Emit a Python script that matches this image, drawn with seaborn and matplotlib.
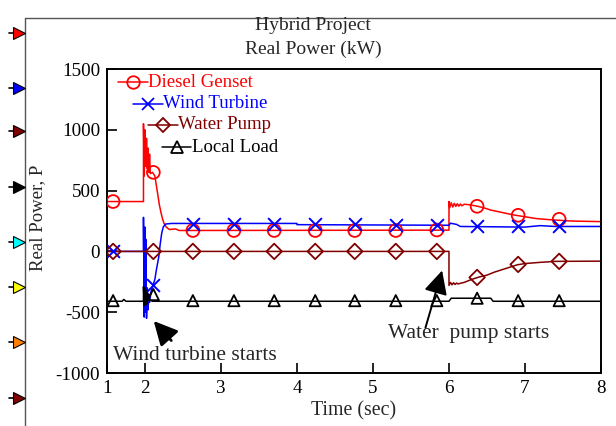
import numpy as np
import pandas as pd
import matplotlib
matplotlib.use("Agg")
import matplotlib.pyplot as plt
from matplotlib.lines import Line2D
import seaborn as sns

# ---------------- data ----------------
diesel_t = [1.5, 1.98, 1.98, 1.99, 2.00, 2.01, 2.02, 2.03, 2.04, 2.05, 2.06, 2.07, 2.10,
            2.13, 2.15, 2.17, 2.19, 2.21, 2.23, 2.25, 2.28, 2.32, 2.40, 2.45, 6.00,
            6.00, 6.01, 6.03, 6.05, 6.07, 6.09, 6.11, 6.13, 6.15, 6.17, 6.20, 6.25,
            6.35, 6.45, 6.55, 6.70, 6.85, 7.00, 7.15, 7.30, 7.60, 8.00]
diesel_p = [410, 410, 1050, 620, 1000, 700, 930, 680, 850, 650, 800, 640, 650,
            620, 540, 460, 380, 320, 270, 230, 200, 180, 185, 172, 175,
            410, 360, 400, 365, 395, 370, 392, 372, 390, 375, 388, 385,
            375, 360, 340, 320, 300, 285, 270, 262, 250, 245]

wind_t = [1.5, 1.98, 1.98, 1.99, 2.00, 2.005, 2.01, 2.02, 2.03, 2.04, 2.05, 2.06, 2.08,
          2.10, 2.13, 2.15, 2.18, 2.20, 2.22, 2.24, 2.27, 2.35, 4.00, 4.00, 6.00,
          6.02, 6.10, 6.15, 7.00, 7.20, 7.40, 8.00]
wind_p = [0, 0, 280, -540, 200, -500, 100, -550, -300, -480, -350, -420, -330,
          -290, -230, -150, -50, 60, 150, 200, 225, 230, 230, 220, 215,
          232, 222, 205, 200, 212, 205, 205]

pump_t = [1.5, 6.00, 6.00, 6.02, 6.04, 6.06, 6.08, 6.10, 6.12, 6.15, 6.20, 6.30, 6.40,
          6.50, 6.60, 6.70, 6.80, 6.90, 7.00, 7.20, 7.40, 8.00]
pump_p = [0, 0, -280, -255, -275, -258, -272, -260, -268, -262, -255, -230, -210,
          -195, -170, -150, -130, -110, -100, -90, -82, -80]

load_t = [1.5, 1.70, 1.72, 1.75, 1.98, 1.98, 1.99, 2.00, 2.01, 2.02, 2.03, 2.04, 2.06,
          2.10, 6.00, 6.03, 6.55, 6.58, 8.00]
load_p = [-410, -410, -395, -410, -410, -290, -445, -300, -440, -320, -430, -350, -400,
          -410, -410, -385, -385, -410, -410]

marker_t = [1.58, 2.11, 2.63, 3.17, 3.70, 4.24, 4.76, 5.30, 5.84, 6.37, 6.91, 7.45]
diesel_mk = [410, 650, 172, 172, 172, 172, 172, 172, 176, 371, 297, 264]
wind_mk = [0, -280, 225, 225, 225, 225, 222, 218, 218, 205, 205, 205]
pump_mk = [0, 0, 0, 0, 0, 0, 0, 0, 0, -214, -107, -82]
load_mk = [-405, -355, -405, -405, -405, -405, -405, -405, -405, -385, -405, -405]

series_names = ["Diesel Genset", "Wind Turbine", "Water Pump", "Local Load"]
series_colors = ["#FF0000", "#0000FF", "#800000", "#000000"]
series_markers = ["o", "x", "D", "^"]

x_ticks = [1.5, 2, 3, 4, 5, 6, 7, 8]
x_ticklabels = ["1", "2", "3", "4", "5", "6", "7", "8"]
y_ticks = [-1000, -500, 0, 500, 1000, 1500]

side_colors = ["#FF0000", "#0000FF", "#800000", "#000000", "#00FFFF", "#FFFF00", "#FF8000", "#800000"]

# ---------------- style ----------------
sns.set_theme(style="white")
plt.rcParams["font.family"] = ["Liberation Serif", "DejaVu Serif"]
plt.rcParams["axes.unicode_minus"] = False
FS_TICK = 13.7
FS_TITLE = 14
FS_LEG = 13.5
FS_XLABEL = 14.3
FS_YLABEL = 13.5
FS_ANN = 15.5

fig = plt.figure(figsize=(6.16, 4.26), dpi=100)
ax = fig.add_axes([0.1737, 0.1244, 0.8019, 0.7136])

lines = [(diesel_t, diesel_p, diesel_mk), (wind_t, wind_p, wind_mk),
         (pump_t, pump_p, pump_mk), (load_t, load_p, load_mk)]
for (t, p, mk), c, m in zip(lines, series_colors, series_markers):
    sns.lineplot(x=t, y=p, ax=ax, color=c, lw=1.1, estimator=None, sort=False)
    if m == "x":
        sns.scatterplot(x=marker_t, y=mk, ax=ax, marker="x", s=85, color=c,
                        linewidth=1.4, zorder=5)
    else:
        size = {"o": 85, "D": 62, "^": 65}[m]
        sns.scatterplot(x=marker_t, y=mk, ax=ax, marker=m, s=size,
                        facecolor="none", edgecolor=c, linewidth=1.3, zorder=5)

ax.set_xlim(1.5, 8)
ax.set_ylim(-1000, 1500)
ax.set_xticks(x_ticks)
ax.set_xticklabels(x_ticklabels)
ax.set_yticks(y_ticks)
ax.set_yticklabels([str(v) for v in y_ticks])
ax.tick_params(direction="in", length=7, width=1.2, labelsize=FS_TICK, colors="black",
               bottom=True, left=True, pad=5)
for s in ax.spines.values():
    s.set_color("black")
    s.set_linewidth(1.4)
ax.set_xlabel("Time (sec)", fontsize=FS_XLABEL, labelpad=3)
ax.set_ylabel("Real Power, P", fontsize=FS_YLABEL)
ax.yaxis.set_label_coords(-0.123, 0.51)

# staggered legend (drawn in axes fraction)
leg_rows = [(0.022, 0.957), (0.053, 0.885), (0.083, 0.816), (0.111, 0.743)]
for (x0, y0), name, c, m in zip(leg_rows, series_names, series_colors, series_markers):
    ax.add_line(Line2D([x0, x0 + 0.06], [y0, y0], color=c, lw=1.1, transform=ax.transAxes))
    ms = {"o": 9, "x": 9, "D": 7.5, "^": 8}[m]
    ax.add_line(Line2D([x0 + 0.03], [y0], marker=m, ms=ms, color=c, mfc="none",
                       mew=1.3, transform=ax.transAxes))
    ax.text(x0 + 0.061, y0, name, color=c, fontsize=FS_LEG, va="center", ha="left",
            transform=ax.transAxes)

# annotations
ax.annotate("", xy=(2.09, -555), xytext=(2.37, -750),
            arrowprops=dict(arrowstyle="-|>,head_length=0.9,head_width=0.45",
                            color="black", lw=2, mutation_scale=16))
ax.text(1.58, -860, "Wind turbine starts", fontsize=FS_ANN, va="center", ha="left")
ax.annotate("", xy=(5.92, -135), xytext=(5.68, -650),
            arrowprops=dict(arrowstyle="-|>,head_length=0.9,head_width=0.45",
                            color="black", lw=1.4, mutation_scale=16))
ax.text(5.20, -677, "Water  pump starts", fontsize=FS_ANN, va="center", ha="left")

# titles
fig.text(0.508, 0.941, "Hybrid Project", fontsize=FS_TITLE, ha="center", va="center")
fig.text(0.508, 0.883, "Real Power (kW)", fontsize=FS_TITLE, ha="center", va="center")

# outer frame lines and side arrow markers
fig.add_artist(Line2D([25 / 616, 25 / 616], [0, 1 - 18 / 426], color="#555555", lw=1,
                      transform=fig.transFigure))
fig.add_artist(Line2D([25 / 616, 1], [1 - 18 / 426, 1 - 18 / 426], color="#555555", lw=1,
                      transform=fig.transFigure))
side_y = [33, 88, 131, 187, 242, 287, 342, 398]
for yy, c in zip(side_y, side_colors):
    fy = 1 - yy / 426
    fig.add_artist(Line2D([9 / 616, 16 / 616], [fy, fy], color="black", lw=1.2,
                          transform=fig.transFigure))
    fig.add_artist(Line2D([19 / 616], [fy], marker=">", ms=8, mfc=c, mec="black",
                          mew=0.8, transform=fig.transFigure))

fig.savefig("out.png", dpi=100)
